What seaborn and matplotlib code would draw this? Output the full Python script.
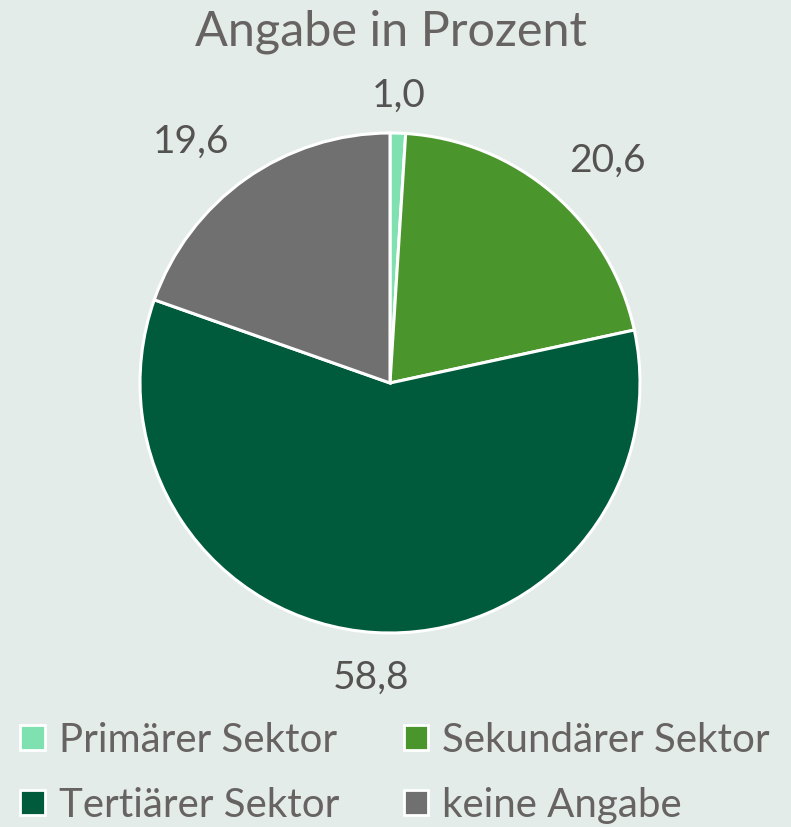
import matplotlib
matplotlib.use("Agg")
import matplotlib.pyplot as plt
import matplotlib.patches as mpatches
import seaborn as sns
import numpy as np

sektoren = ["Primärer Sektor", "Sekundärer Sektor", "Tertiärer Sektor", "keine Angabe"]
anteile = [1.0, 20.6, 58.8, 19.6]
farben = ["#7FE0B0", "#4A962D", "#005A3C", "#707070"]
beschriftung = ["1,0", "20,6", "58,8", "19,6"]
abstand = [1.15, 1.17, 1.18, 1.18]

bg = "#E3ECE8"
sns.set_theme(style="white")
plt.rcParams["font.family"] = ["Lato", "DejaVu Sans"]

fig = plt.figure(figsize=(7.91, 8.27), dpi=100, facecolor=bg)
ax = fig.add_axes([140 / 791, (827 - 633) / 827, 500 / 791, 500 / 827])
ax.set_facecolor(bg)

palette = sns.color_palette(farben)
wedges, _ = ax.pie(anteile, colors=palette, startangle=90, counterclock=False,
                   wedgeprops=dict(edgecolor="white", linewidth=2.2))
ax.set_xlim(-1, 1)
ax.set_ylim(-1, 1)
ax.set_aspect("equal")

# Datenbeschriftungen ausserhalb der Segmente
for w, txt, r in zip(wedges, beschriftung, abstand):
    ang = np.deg2rad((w.theta1 + w.theta2) / 2)
    c = np.cos(ang)
    x = r * c
    if c > 0.3:
        ha, x = "left", x - 0.045
    elif c < -0.3:
        ha, x = "right", x + 0.04
    else:
        ha = "center"
    ax.text(x, r * np.sin(ang), txt, ha=ha, va="center",
            fontsize=28, color="#555252", clip_on=False)

fig.text(0.494, 0.962, "Angabe in Prozent", ha="center", va="center",
         fontsize=35, color="#686363")

# Legende zeilenweise: ncol fuellt spaltenweise, daher umsortieren
handles = [mpatches.Patch(facecolor=c, edgecolor="white", linewidth=2) for c in farben]
order = [0, 2, 1, 3]
leg = fig.legend([handles[i] for i in order], [sektoren[i] for i in order],
                 ncol=2, loc="lower left",
                 bbox_to_anchor=(-0.02, -0.04), frameon=False, fontsize=29,
                 handlelength=0.6, handleheight=0.6, handletextpad=0.35,
                 columnspacing=1.6, labelspacing=0.7)
for t in leg.get_texts():
    t.set_color("#686363")

fig.savefig("out.png", dpi=100, facecolor=bg)
